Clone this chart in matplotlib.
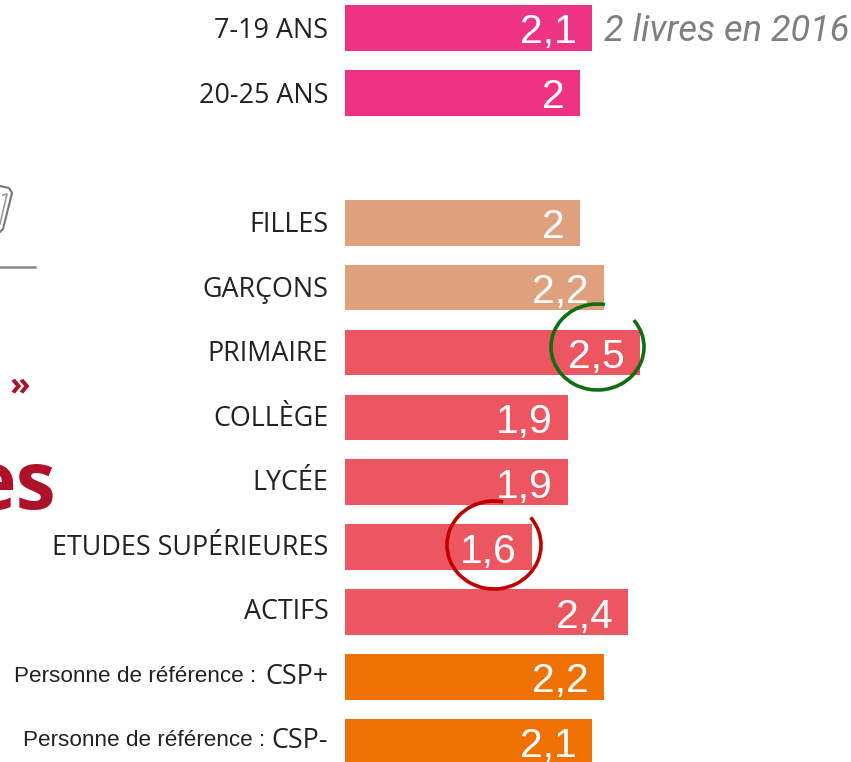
import matplotlib
matplotlib.use("Agg")
import matplotlib.pyplot as plt
from matplotlib.patches import Arc
from matplotlib.transforms import ScaledTranslation

W, H = 851, 762
categories = ["7-19 ANS", "20-25 ANS", "FILLES", "GARÇONS", "PRIMAIRE", "COLLÈGE", "LYCÉE",
              "ETUDES SUPÉRIEURES", "ACTIFS", "CSP+", "CSP-"]
rows = [0, 1, 3, 4, 5, 6, 7, 8, 9, 10, 11]
values = [2.1, 2.0, 2.0, 2.2, 2.5, 1.9, 1.9, 1.6, 2.4, 2.2, 2.1]
value_labels = ["2,1", "2", "2", "2,2", "2,5", "1,9", "1,9", "1,6", "2,4", "2,2", "2,1"]
PINK, TAN, CORAL, ORANGE = "#EE3385", "#DFA07D", "#EC5661", "#EE7203"
colors = [PINK, PINK, TAN, TAN, CORAL, CORAL, CORAL, CORAL, CORAL, ORANGE, ORANGE]
prefix = "Personne de référence :"

fig = plt.figure(figsize=(W / 100, H / 100), dpi=100, facecolor="white")
ax = fig.add_axes([345 / W, 0, (W - 345) / W, 1])
ax.set_xlim(5 / 120, (W - 340) / 120)
ax.set_ylim((H - 28) / 64.9, -28 / 64.9)
ax.barh(rows, values, height=0.705, color=colors, linewidth=0)
for s in ax.spines.values():
    s.set_visible(False)
ax.xaxis.set_visible(False)
ax.set_yticks(rows, categories, fontfamily="Open Sans", fontsize=19.4, color="#222222")
ax.tick_params(axis="y", length=0, pad=12)
for lab, r in zip(ax.get_yticklabels(), rows):
    lab.set_transform(lab.get_transform() + ScaledTranslation(0, 0.36 * r / 100, fig.dpi_scale_trans))
for r, v, t in zip(rows, values, value_labels):
    ax.annotate(t, (v, r), xytext=(-11, -3.2), textcoords="offset points", ha="right", va="center",
                color="white", fontsize=29.5, fontfamily="Liberation Sans")

ov = fig.add_axes([0, 0, 1, 1], facecolor="none")
ov.set_xlim(0, W)
ov.set_ylim(H, 0)
ov.axis("off")
for y, xr in ((676, 256), (740, 265)):
    ov.text(xr, y, prefix, ha="right", va="center", fontsize=16.2,
            fontfamily="Liberation Sans", color="#222222")
ov.text(604, 31, "2 livres en 2016", ha="left", va="center", fontsize=26, style="italic",
        fontfamily="Roboto", color="#7F7F7F")
ov.text(20, 386, "»", ha="center", va="center", fontsize=24, fontweight="bold",
        fontfamily="Open Sans", color="#AE1228")
ov.text(56, 509, "es", ha="right", va="baseline", fontsize=58, fontweight="bold",
        fontfamily="Open Sans", color="#AE1228")
ov.add_patch(Arc((597.5, 347), 93, 86, theta1=-36.5, theta2=280, color="#0F6E12", lw=2.6))
ov.add_patch(Arc((494, 545), 94, 88, theta1=-37, theta2=282, color="#C00000", lw=2.6))
ov.plot([0, 35], [267, 267], color="#888888", lw=1.8)
ov.plot([0, 9, 12, 3, 0], [186, 188, 193, 229, 232], color="#777777", lw=1.5)
ov.plot([3, 7, 0], [195, 194, 224], color="#999999", lw=1.2)
fig.savefig("out.png", dpi=100)
